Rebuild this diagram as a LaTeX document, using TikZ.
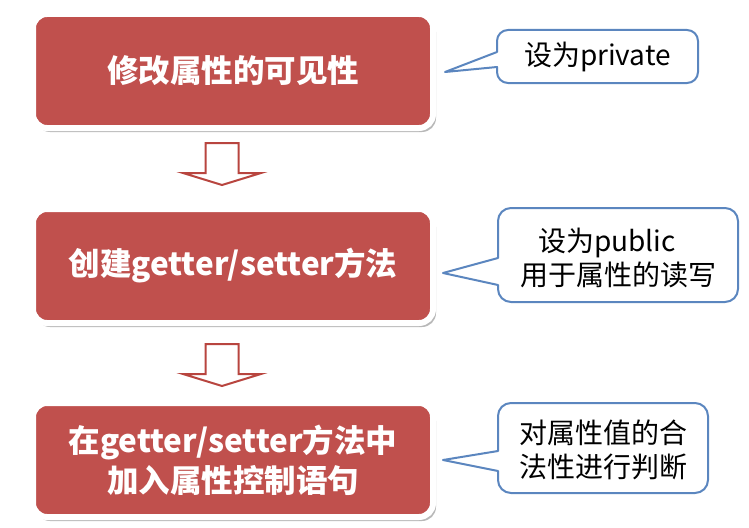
\documentclass[tikz,border=0pt]{standalone}
\usepackage{fontspec}
\newfontfamily\cjk{Noto Sans CJK SC}
\usetikzlibrary{calc,shadows}
\definecolor{stepred}{HTML}{C0504D}
\definecolor{arrowred}{HTML}{B8453F}
\definecolor{noteblue}{HTML}{5B86BF}
\tikzset{
  stepbox/.style={rectangle, rounded corners=14pt, fill=stepred, draw=white,
    line width=6pt, minimum width=400pt, minimum height=114pt, align=center,
    text=white, font=\cjk\bfseries\fontsize{31.5}{40}\selectfont,
    drop shadow={shadow xshift=3pt, shadow yshift=-4pt, fill=black, opacity=0.28}},
  notetext/.style={align=center, inner sep=0pt, text=black,
    font=\cjk\fontsize{28}{34}\selectfont},
  noteline/.style={draw=noteblue, line width=2pt, fill=white, line join=round},
  arrowline/.style={draw=arrowred, line width=2pt, fill=white, line join=miter},
  downarrow/.pic={
    \path[arrowline] (-16.5,0) -- (16.5,0) -- (16.5,30) -- (39,30) -- (0,42)
      -- (-39,30) -- (-16.5,30) -- cycle;
  }
}
\begin{document}
\begin{tikzpicture}[x=1pt,y=-1pt]
  \useasboundingbox (0,0) rectangle (749,527);

  % process steps
  \node[stepbox] (s1) at (233,71)  {修改属性的可见性};
  \node[stepbox] (s2) at (233,266) {创建getter/setter方法};
  \node[stepbox] (s3) at (233,460) {在getter/setter方法中\\加入属性控制语句};

  % hollow arrows between the steps
  \pic at (222,143) {downarrow};
  \pic at (222,344) {downarrow};

  % note anchors: text centres and pointer tips
  \coordinate (n1) at (597.5,56.5);
  \coordinate (n2) at (618,258);
  \coordinate (n3) at (603,450);
  \coordinate (t1) at (445,72);
  \coordinate (t2) at (443,273);
  \coordinate (t3) at (443,460);

  % note outlines: rounded box with a sharp pointer on the left side
  \path[noteline, rounded corners=11pt]
    (497,52) -- (497,30) -- (698,30) -- (698,83) -- (497,83)
    [sharp corners] -- (497,67) -- (t1) -- cycle;
  \path[noteline, rounded corners=13pt]
    (498,258) -- (498,208) -- (738,208) -- (738,302) -- (498,302)
    [sharp corners] -- (498,285) -- (t2) -- cycle;
  \path[noteline, rounded corners=13pt]
    (498,451) -- (498,403) -- (708,403) -- (708,493) -- (498,493)
    [sharp corners] -- (498,471) -- (t3) -- cycle;

  % note texts
  \node[notetext] (c1) at (n1) {设为private};
  \node[notetext] (c2) at (n2) {设为public\hspace*{22pt}\\用于属性的读写};
  \node[notetext] (c3) at (n3) {对属性值的合\\法性进行判断};
\end{tikzpicture}
\end{document}
